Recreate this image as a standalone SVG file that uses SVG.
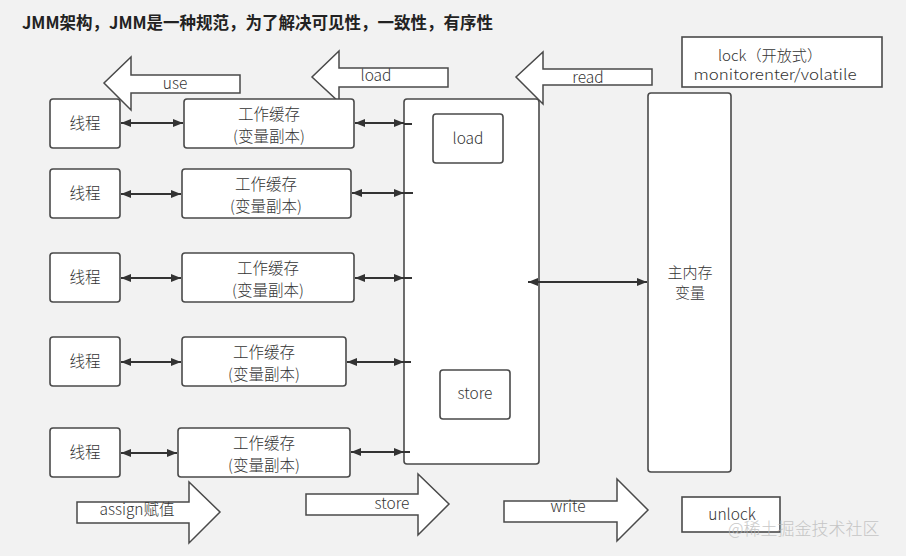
<svg xmlns="http://www.w3.org/2000/svg" width="906" height="556" viewBox="0 0 906 556">
<style>
text{font-family:"Noto Sans CJK SC","Noto Sans",sans-serif;fill:#333;font-size:15.5px;font-weight:300}
.t{font-weight:bold;font-size:16.5px;fill:#222}
.sm{font-size:15px}
.box{fill:#fff;stroke:#4a4a4a;stroke-width:1.6}
.blk{fill:#fff;stroke:#4a4a4a;stroke-width:1.5;stroke-linejoin:miter}
.c{stroke:#333;stroke-width:2;fill:none}
.m{text-anchor:middle}
.wm{fill:#bbb;font-size:17px;opacity:0.8}
</style>
<defs>
<marker id="ah" markerWidth="10" markerHeight="8" refX="10" refY="4" orient="auto-start-reverse" markerUnits="userSpaceOnUse">
<path d="M0,0 L10,4 L0,8 z" fill="#333"/>
</marker>
</defs>
<rect width="906" height="556" fill="#f2f2f2"/>
<text class="t" x="22" y="29">JMM架构，JMM是一种规范，为了解决可见性，一致性，有序性</text>

<g id="arrow-use"><polygon class="blk" points="240,75 131,75 131,57 104,83 131,110 131,93 240,93"/><text class="m" x="175" y="89">use</text></g>
<g id="arrow-load"><polygon class="blk" points="448,68 339,68 339,51 312,77 339,102 339,87 448,87"/><text class="m" x="376" y="81">load</text></g>

<g id="threads">
<g id="thread1"><rect class="box" x="50" y="99" width="70" height="49" rx="3"/><text class="m" x="85" y="129">线程</text></g>
<g id="thread2"><rect class="box" x="50" y="169" width="70" height="49" rx="3"/><text class="m" x="85" y="199">线程</text></g>
<g id="thread3"><rect class="box" x="50" y="253" width="70" height="49" rx="3"/><text class="m" x="85" y="283">线程</text></g>
<g id="thread4"><rect class="box" x="50" y="337" width="70" height="49" rx="3"/><text class="m" x="85" y="367">线程</text></g>
<g id="thread5"><rect class="box" x="50" y="428" width="70" height="49" rx="3"/><text class="m" x="85" y="458">线程</text></g>
</g>
<g id="caches">
<g id="cache1"><rect class="box" x="184" y="99" width="170" height="49" rx="3"/><text class="m" x="269" y="120">工作缓存</text><text class="m" x="269" y="142">(变量副本)</text></g>
<g id="cache2"><rect class="box" x="182" y="169" width="169" height="49" rx="3"/><text class="m" x="266" y="190">工作缓存</text><text class="m" x="266" y="212">(变量副本)</text></g>
<g id="cache3"><rect class="box" x="182" y="253" width="172" height="49" rx="3"/><text class="m" x="268" y="274">工作缓存</text><text class="m" x="268" y="296">(变量副本)</text></g>
<g id="cache4"><rect class="box" x="182" y="337" width="164" height="49" rx="3"/><text class="m" x="264" y="358">工作缓存</text><text class="m" x="264" y="380">(变量副本)</text></g>
<g id="cache5"><rect class="box" x="178" y="428" width="172" height="49" rx="3"/><text class="m" x="264" y="449">工作缓存</text><text class="m" x="264" y="471">(变量副本)</text></g>
</g>

<g id="engine"><rect class="box" x="404" y="99" width="135" height="365" rx="3"/></g>
<g id="load-op"><rect class="box" x="433" y="114" width="70" height="49" rx="3"/><text class="m" x="468" y="144">load</text></g>
<g id="store-op"><rect class="box" x="440" y="370" width="70" height="49" rx="3"/><text class="m" x="475" y="399">store</text></g>
<g id="arrow-read"><polygon class="blk" points="652,69 543,69 543,52 516,77 543,104 543,85 652,85"/><text class="m" x="588" y="83">read</text></g>

<g id="main-memory"><rect class="box" x="648" y="93" width="83" height="379" rx="3"/><text class="m sm" x="690" y="278">主内存</text><text class="m sm" x="690" y="298">变量</text></g>
<g id="lock"><rect class="box" x="682" y="37" width="200" height="50" rx="0"/><text class="m sm" x="770" y="61" textLength="104" lengthAdjust="spacingAndGlyphs">lock（开放式）</text><text class="m sm" x="775" y="80" textLength="163" lengthAdjust="spacingAndGlyphs">monitorenter/volatile</text></g>
<g id="unlock"><rect class="box" x="682" y="497" width="98" height="35" rx="0"/><text class="m" x="732" y="520">unlock</text></g>

<g id="arrow-assign"><polygon class="blk" points="77,502 189,502 189,482 220,512 189,543 189,523 77,523"/><text class="m" x="137" y="515">assign赋值</text></g>
<g id="arrow-store"><polygon class="blk" points="306,494 418,494 418,474 449,504 418,535 418,515 306,515"/><text class="m" x="392" y="509">store</text></g>
<g id="arrow-write"><polygon class="blk" points="504,501 617,501 617,479 648,510 617,541 617,522 504,522"/><text class="m" x="568" y="512">write</text></g>

<g id="connectors">
<line class="c" x1="121" y1="123" x2="183" y2="123" marker-start="url(#ah)" marker-end="url(#ah)"/>
<line class="c" x1="121" y1="194" x2="181" y2="194" marker-start="url(#ah)" marker-end="url(#ah)"/>
<line class="c" x1="121" y1="278" x2="181" y2="278" marker-start="url(#ah)" marker-end="url(#ah)"/>
<line class="c" x1="121" y1="362" x2="181" y2="362" marker-start="url(#ah)" marker-end="url(#ah)"/>
<line class="c" x1="121" y1="453" x2="177" y2="453" marker-start="url(#ah)" marker-end="url(#ah)"/>
<line class="c" x1="355" y1="123" x2="404" y2="123" marker-start="url(#ah)" marker-end="url(#ah)"/>
<line class="c" x1="352" y1="193" x2="404" y2="193" marker-start="url(#ah)" marker-end="url(#ah)"/>
<line class="c" x1="355" y1="278" x2="404" y2="278" marker-start="url(#ah)" marker-end="url(#ah)"/>
<line class="c" x1="347" y1="362" x2="404" y2="362" marker-start="url(#ah)" marker-end="url(#ah)"/>
<line class="c" x1="351" y1="452" x2="404" y2="452" marker-start="url(#ah)" marker-end="url(#ah)"/>
<path class="c" d="M404,124 H412 M404,193 H413 M404,278 H412 M404,362 H411 M404,452 H410" stroke-width="1.5"/>
<line class="c" x1="528" y1="282" x2="647" y2="282" marker-start="url(#ah)" marker-end="url(#ah)"/>
</g>
<text class="wm" x="728" y="535">@稀土掘金技术社区</text>
</svg>
